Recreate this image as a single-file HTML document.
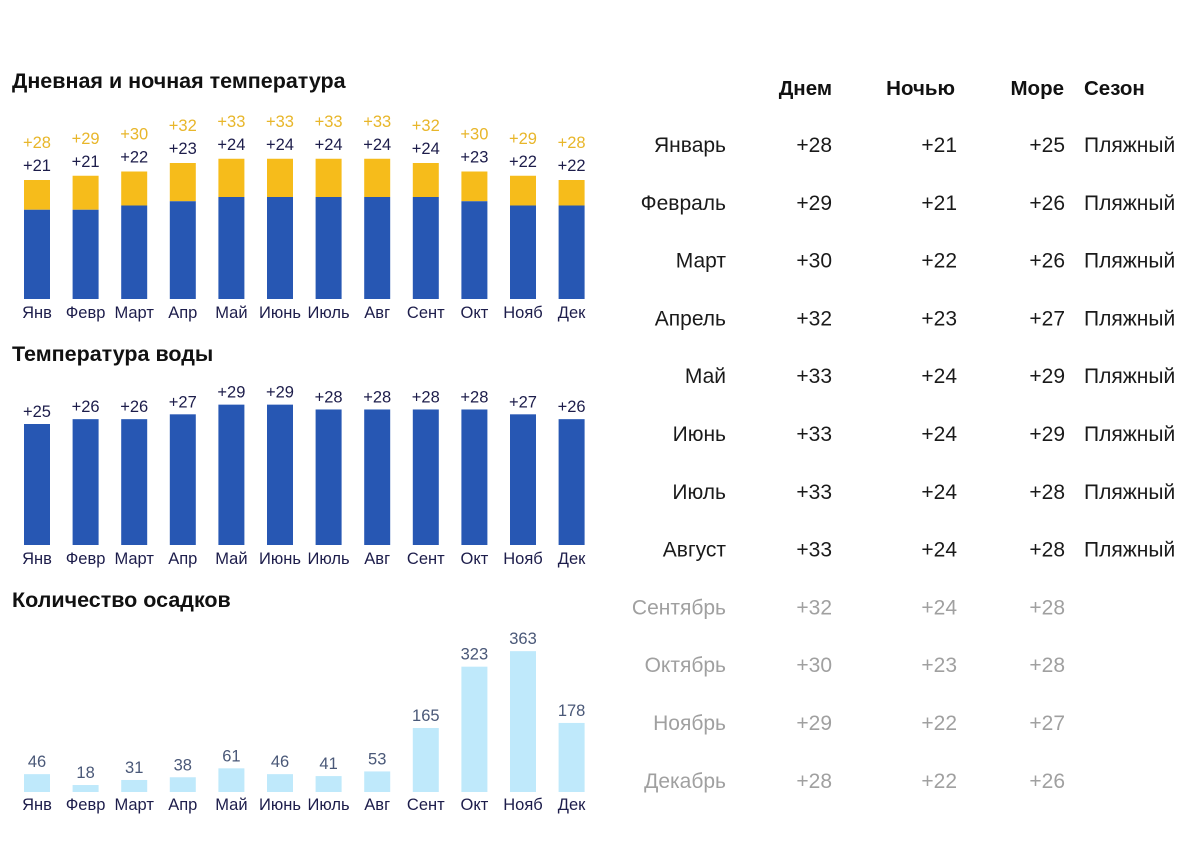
<!DOCTYPE html>
<html><head><meta charset="utf-8"><style>
body{margin:0;width:1200px;height:858px;background:#fff;font-family:"Liberation Sans",sans-serif;overflow:hidden}
svg{position:absolute;left:0;top:0}
</style></head><body>
<svg id="s" width="1200" height="858"></svg>
<script>
const months=["Янв","Февр","Март","Апр","Май","Июнь","Июль","Авг","Сент","Окт","Нояб","Дек"];
const dayT=[28,29,30,32,33,33,33,33,32,30,29,28];
const nightT=[21,21,22,23,24,24,24,24,24,23,22,22];
const seaT=[25,26,26,27,29,29,28,28,28,28,27,26];
const rain=[46,18,31,38,61,46,41,53,165,323,363,178];
const fullMonths=["Январь","Февраль","Март","Апрель","Май","Июнь","Июль","Август","Сентябрь","Октябрь","Ноябрь","Декабрь"];
const seasons=["Пляжный","Пляжный","Пляжный","Пляжный","Пляжный","Пляжный","Пляжный","Пляжный","","","",""];
const NS="http://www.w3.org/2000/svg",S=document.getElementById('s');
function el(t,a,txt){const e=document.createElementNS(NS,t);for(const k in a)e.setAttribute(k,a[k]);if(txt!==undefined)e.textContent=txt;S.appendChild(e);return e;}
const xc=i=>37+i*48.6, BW=26;
function title(x,y,t,n){const e=el('text',{x:x,y:y,'font-size':21.5,fill:'#111','font-weight':'bold'},t);

}
function mlabels(y,n){months.forEach((m,i)=>{const e=el('text',{x:xc(i),y:y,'font-size':16.5,fill:'#1d1d4b','text-anchor':'middle'},m);

});}
title(12,88,"Дневная и ночная температура","day-night-title");
const b1=299,k1=4.25;
months.forEach((m,i)=>{
 const hd=dayT[i]*k1,hn=nightT[i]*k1;
 let r=el('rect',{x:xc(i)-BW/2,y:b1-hd,width:BW,height:hd-hn,fill:'#f6bc1b'});
 
 
 r=el('rect',{x:xc(i)-BW/2,y:b1-hn,width:BW,height:hn,fill:'#2757b3'});
 
 
 let t=el('text',{x:xc(i),y:b1-hd-32,'font-size':16.5,fill:'#e8b62a','text-anchor':'middle'},'+'+dayT[i]);
 
 
 t=el('text',{x:xc(i),y:b1-hd-9,'font-size':16.5,fill:'#1d1d4b','text-anchor':'middle'},'+'+nightT[i]);
 
 
});
mlabels(318,'temp');
title(12,361,"Температура воды","water-title");
const b2=545,k2=4.84;
months.forEach((m,i)=>{const h=seaT[i]*k2;
 const r=el('rect',{x:xc(i)-BW/2,y:b2-h,width:BW,height:h,fill:'#2757b3'});
 
 
 const t=el('text',{x:xc(i),y:b2-h-7,'font-size':16.5,fill:'#1d1d4b','text-anchor':'middle'},'+'+seaT[i]);
 
 });
mlabels(564,'water');
title(12,607,"Количество осадков","rain-title");
const b3=792,k3=0.388;
months.forEach((m,i)=>{const h=rain[i]*k3;
 const r=el('rect',{x:xc(i)-BW/2,y:b3-h,width:BW,height:h,fill:'#bfe9fb'});
 
 
 const t=el('text',{x:xc(i),y:b3-h-7,'font-size':16.5,fill:'#4a5878','text-anchor':'middle'},rain[i]);
 
 });
mlabels(810,'rain');
// table
[["Днем",832,'end'],["Ночью",955,'end'],["Море",1064,'end'],["Сезон",1084,'start']].forEach(h=>{
 const t=el('text',{x:h[1],y:95,'font-size':20.5,fill:'#111','font-weight':'bold','text-anchor':h[2]},h[0]);
 
 });
fullMonths.forEach((m,i)=>{
 const y=152+i*57.8, c=seasons[i]?'#1a1a1a':'#a0a0a0';
 const cells=[[m,726,'end'],['+'+dayT[i],832,'end'],['+'+nightT[i],957,'end'],['+'+seaT[i],1065,'end'],[seasons[i],1084,'start']];
 cells.forEach(cl=>{if(!cl[0])return;
  const t=el('text',{x:cl[1],y:y,'font-size':21,fill:c,'text-anchor':cl[2]},cl[0]);
  
  });
});
</script>
</body></html>
